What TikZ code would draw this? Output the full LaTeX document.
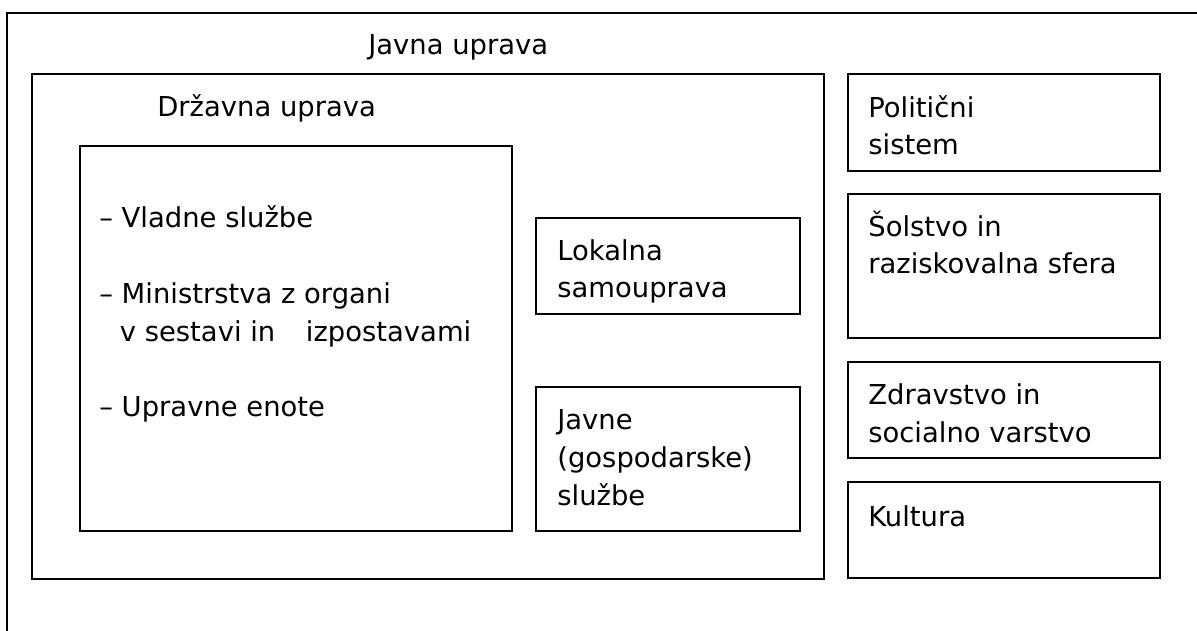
\documentclass[tikz,border=0pt]{standalone}
\usepackage{fontspec}
\setmainfont{DejaVu Sans}
\tikzset{
  okvir/.style={draw, line width=1.1pt},
  % base west = baseline of the last line
  napis/.style={anchor=base west, inner sep=0pt, align=left,
    font=\fontsize{15.6}{21.6}\selectfont},
}
\begin{document}
\begin{tikzpicture}[x=0.02cm, y=-0.02cm]
    \useasboundingbox (0,0) rectangle (1197,631);
    % outer frame (cut off on the right and at the bottom)
    \draw[okvir] (7,631) -- (7,13) -- (1197,13);
    \node[napis] (javna) at (368,55) {Javna uprava};

    \draw[okvir] (32,74) rectangle (824,579);
    \node[napis] (drzavna) at (157,117) {Državna uprava};

    \draw[okvir] (80,146) rectangle (512,531);
    \node[napis] (organi) at (99,417) {– Vladne službe\\[21.6pt]
      – Ministrstva z organi\\
      \hspace{0.75em}v sestavi in\hspace{0.8em} izpostavami\\[21.6pt]
      – Upravne enote};

    \draw[okvir] (536,218) rectangle (800,314);
    \node[napis] (lokalna) at (557,298) {Lokalna\\samouprava};
    \draw[okvir] (536,387) rectangle (800,531);
    \node[napis] (sluzbe) at (557,505) {Javne\\(gospodarske)\\službe};

    \draw[okvir] (848,74) rectangle (1160,171);
    \node[napis] (politika) at (868,155) {Politični\\sistem};
    \draw[okvir] (848,194) rectangle (1160,338);
    \node[napis] (solstvo) at (868,274) {Šolstvo in\\raziskovalna sfera};
    \draw[okvir] (848,362) rectangle (1160,458);
    \node[napis] (zdravstvo) at (868,442) {Zdravstvo in\\socialno varstvo};
    \draw[okvir] (848,482) rectangle (1160,578);
    \node[napis] (kultura) at (868,526) {Kultura};
  \end{tikzpicture}
\end{document}
